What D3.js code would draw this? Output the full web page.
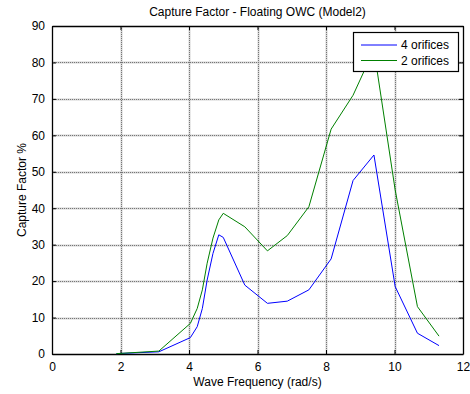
<!DOCTYPE html>
<html>
<head>
<meta charset="utf-8">
<script src="https://cdn.jsdelivr.net/npm/d3@7"></script>
<style>
  body { margin: 0; background: #fff; }
  text { font-family: Arial, "Liberation Sans", sans-serif; fill: #000; }
</style>
</head>
<body>
<div id="chart"></div>
<script>
// chart data
var freq = [1.88, 3.12, 4.04, 4.24, 4.39, 4.53, 4.70, 4.87, 5.0, 5.63, 6.29, 6.87, 7.50, 8.15, 8.79, 9.40, 10.02, 10.67, 11.30];
var fourOrifices = [0.1, 0.6, 4.5, 7.5, 12.5, 20.3, 27.6, 32.7, 32.0, 18.9, 13.9, 14.5, 17.6, 26.1, 47.6, 54.6, 18.5, 5.7, 2.3];
var twoOrifices = [0.1, 0.8, 8.4, 12.5, 17.6, 24.9, 31.8, 36.8, 38.6, 34.9, 28.3, 32.5, 40.4, 61.7, 71.0, 83.5, 45.0, 13.0, 4.9];
var seriesNames = ["4 orifices", "2 orifices"];
var seriesColors = ["#0000ff", "#008000"];
var xTicks = [0, 2, 4, 6, 8, 10, 12];
var yTicks = [0, 10, 20, 30, 40, 50, 60, 70, 80, 90];

var svgWidth = 470;
var svgHeight = 394;
var margin = { top: 26, right: 7, bottom: 40, left: 52 };
var width = svgWidth - margin.left - margin.right;
var height = svgHeight - margin.top - margin.bottom;

var svg = d3.select("#chart").append("svg")
    .attr("width", svgWidth)
    .attr("height", svgHeight);

var chartGroup = svg.append("g")
    .attr("transform", `translate(${margin.left}, ${margin.top})`);

var x = d3.scaleLinear().domain([0, 12]).range([0, width]);
var y = d3.scaleLinear().domain([0, 90]).range([height, 0]);

// grid: soft gray under a dotted darker line
function drawGrid(color, w, dash) {
    var g = chartGroup.append("g");
    g.selectAll(".gx")
        .data(xTicks.slice(1, -1))
        .enter().append("line")
        .attr("x1", d => Math.round(x(d)) + 0.5).attr("x2", d => Math.round(x(d)) + 0.5)
        .attr("y1", 0).attr("y2", height)
        .attr("stroke", color).attr("stroke-width", w).attr("stroke-dasharray", dash);
    g.selectAll(".gy")
        .data(yTicks.slice(1, -1))
        .enter().append("line")
        .attr("y1", d => Math.round(y(d)) + 0.5).attr("y2", d => Math.round(y(d)) + 0.5)
        .attr("x1", 0).attr("x2", width)
        .attr("stroke", color).attr("stroke-width", w).attr("stroke-dasharray", dash);
}
drawGrid("#d4d4d4", 2, null);
drawGrid("#777", 1, "1,1");

// axes, ticks inward
var bottomAxis = d3.axisBottom(x).tickValues(xTicks).tickSizeInner(-4).tickSizeOuter(0).tickPadding(8);
var leftAxis = d3.axisLeft(y).tickValues(yTicks).tickSizeInner(-4).tickSizeOuter(0).tickPadding(7);
var topAxis = d3.axisTop(x).tickValues(xTicks).tickSizeInner(-4).tickSizeOuter(0).tickFormat("");
var rightAxis = d3.axisRight(y).tickValues(yTicks).tickSizeInner(-4).tickSizeOuter(0).tickFormat("");

chartGroup.append("g").attr("transform", `translate(0, ${height})`).call(bottomAxis);
chartGroup.append("g").call(leftAxis);
chartGroup.append("g").call(topAxis);
chartGroup.append("g").attr("transform", `translate(${width}, 0)`).call(rightAxis);

chartGroup.selectAll(".domain").attr("stroke", "#000").attr("stroke-width", 1.3);
chartGroup.selectAll(".tick line").attr("stroke", "#000");
chartGroup.selectAll(".tick text").attr("font-size", "12px").attr("fill", "#000");

// lines
var lineGen = d3.line()
    .x(d => x(d[0]))
    .y(d => y(d[1]));

[fourOrifices, twoOrifices].forEach(function(vals, i) {
    chartGroup.append("path")
        .datum(freq.map((f, j) => [f, vals[j]]))
        .attr("fill", "none")
        .attr("stroke", seriesColors[i])
        .attr("stroke-width", 1)
        .attr("d", lineGen);
});

// legend
var legend = svg.append("g").attr("transform", "translate(353, 32)");
legend.append("rect")
    .attr("x", 0.5).attr("y", 0.5)
    .attr("width", 105).attr("height", 39)
    .attr("fill", "#fff").attr("stroke", "#000").attr("stroke-width", 1.2);
seriesNames.forEach(function(name, i) {
    var ly = 13 + i * 15.5;
    legend.append("line")
        .attr("x1", 8).attr("x2", 44)
        .attr("y1", ly).attr("y2", ly)
        .attr("stroke", seriesColors[i]);
    legend.append("text")
        .attr("x", 48).attr("y", ly + 4)
        .attr("font-size", "12px")
        .text(name);
});

// titles
svg.append("text")
    .attr("x", margin.left + width / 2).attr("y", 16)
    .attr("text-anchor", "middle").attr("font-size", "12px")
    .text("Capture Factor - Floating OWC (Model2)");

svg.append("text")
    .attr("x", margin.left + width / 2).attr("y", 386)
    .attr("text-anchor", "middle").attr("font-size", "12px")
    .text("Wave Frequency (rad/s)");

svg.append("text")
    .attr("transform", `translate(26, ${margin.top + height / 2}) rotate(-90)`)
    .attr("text-anchor", "middle").attr("font-size", "12px")
    .text("Capture Factor %");
</script>
</body>
</html>
